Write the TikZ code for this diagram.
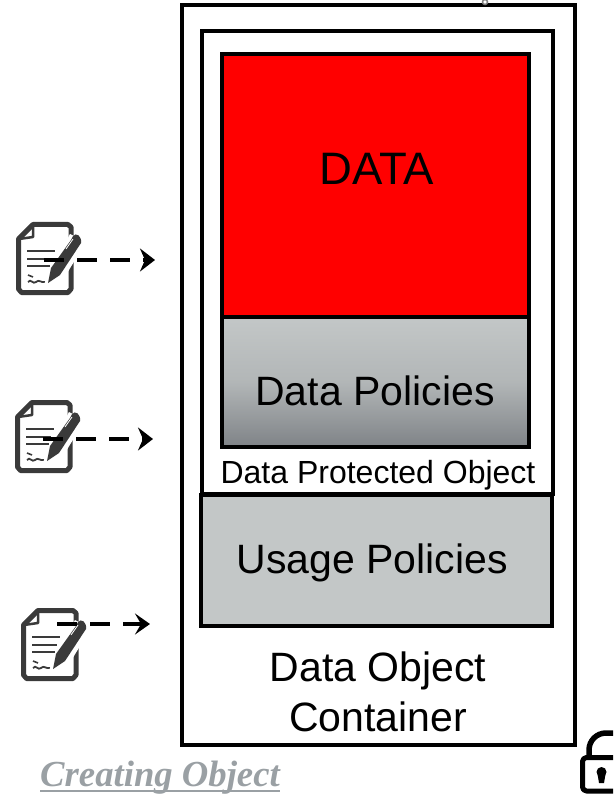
\documentclass[tikz,border=0pt]{standalone}
\usepackage{fontspec}
\setmainfont{Liberation Sans}
\newfontfamily\serifcaption{Liberation Serif}
\usetikzlibrary{arrows.meta}
\definecolor{policygray}{HTML}{C3C7C7}
\definecolor{policydark}{HTML}{7F8387}
\definecolor{captiongray}{HTML}{9AA0A4}
\definecolor{icongray}{HTML}{3A3A3A}
\tikzset{
  box/.style={draw=black, line width=4.5pt, minimum width=#1, outer sep=0pt, inner sep=0pt},
  boxtext/.style={anchor=base, inner sep=0pt, font=\fontsize{41}{41}\selectfont},
  signflow/.style={line width=4.2pt, dash pattern=on 20pt off 13pt},
  signdoc/.pic={
    % Sheet with folded corner
    \draw[icongray, line width=5pt, line join=round] (55,19) -- (55,5) -- (52,2.5) -- (17,2.5) -- (2.5,17) -- (2.5,67) -- (5.5,70.5) -- (52,70.5) -- (55,67) -- (55,40);
    \draw[icongray, line width=2.5pt, line join=round] (17,2) -- (17,15) -- (3,17);
    % Text lines
    \foreach \liney/\lineend in {29/39, 37/36, 44/34}
      \draw[icongray, line width=2.8pt] (11,\liney) -- (\lineend,\liney);
    % Signature
    \draw[icongray, line width=1.8pt] (12,60) .. controls (15,56) and (17,63) .. (20,60) .. controls (23,57) and (25,61) .. (29,60);
    \draw[icongray, line width=1.6pt] (12,53) -- (17,55);
    % Pen
    \fill[white] (27,64) -- (54,12) -- (70,20) -- (42,66) -- cycle;
    \fill[icongray] (32,61) -- (35,46) -- (55,18) -- (57,14) .. controls (60,10) and (66,14) .. (65,21) -- (44,53) -- cycle;
    \draw[white, line width=0.8pt] (50,27) -- (57,17);
    \coordinate (-start) at (28,37);
  }
}
\begin{document}
\begin{tikzpicture}[x=1pt,y=-1pt]
\useasboundingbox (0,0) rectangle (613,794);
\clip (0,0) rectangle (613,794);
% Draw containers
\node[box=393pt, minimum height=740pt] (container) at (378.5,375) {};
\node[box=351pt, minimum height=463pt] (protected) at (377.5,262.5) {};
% Draw handle on the frame
\draw[gray, line width=1.5pt, fill=white] (485,2) circle [radius=2.5pt];
% Draw data and policies
\node[box=307pt, minimum height=263pt, fill=red] (data) at (375.5,185.5) {};
\node[box=307pt, minimum height=130pt, top color=policygray, bottom color=policydark, middle color=policygray!75!policydark] (datapolicies) at (375.5,382) {};
\node[box=351pt, minimum height=131pt, fill=policygray] (usagepolicies) at (376.5,560.5) {};
% Draw labels
\node[boxtext, font=\fontsize{45.5}{45.5}\selectfont] (datatext) at (376.5,185) {DATA};
\node[boxtext] (datapoliciestext) at (375,405) {Data Policies};
\node[boxtext, font=\fontsize{32}{32}\selectfont] (protectedtext) at (378,483) {Data Protected Object};
\node[boxtext] (usagetext) at (372,573) {Usage Policies};
\node[boxtext] (containertext1) at (378,681) {Data Object};
\node[boxtext] (containertext2) at (378,731) {Container};
% Draw signed documents
\pic (sign1) at (16,222) {signdoc};
\pic (sign2) at (15,400) {signdoc};
\pic (sign3) at (21,608) {signdoc};
% Arrow ends at the container
\coordinate (tip1) at (155,260);
\coordinate (tip2) at (153,439);
\coordinate (tip3) at (150,624);
% Draw dashed arrows
\draw[signflow, -{Stealth[length=15pt, width=23pt, inset=5pt]}] (sign1-start |- tip1) -- (tip1);
\draw[signflow, -{Stealth[length=15pt, width=23pt, inset=5pt]}] (sign2-start |- tip2) -- (tip2);
\draw[signflow, -{Stealth[length=15pt, width=21pt, inset=6pt]}] ([xshift=8pt]sign3-start |- tip3) -- (tip3);
% Draw caption
\node[anchor=base west, inner sep=0pt, text=captiongray, font=\serifcaption\bfseries\itshape\fontsize{36.7}{36.7}\selectfont] (caption) at (40,786) {Creating Object};
\draw[captiongray, line width=2.5pt] (caption.base west) ++(0,5) coordinate (underlinestart) -- (underlinestart -| caption.base east);
% Draw lock
\draw[black, line width=5pt, line join=round, rounded corners=4pt] (625,757.5) -- (582.5,757.5) -- (582.5,791) -- (625,791);
\draw[black, line width=5.5pt] (589,757.5) -- (589,750) arc [start angle=180, end angle=270, radius=17] -- (625,733);
\fill[black] (601.5,772) circle [radius=5pt];
\fill[black] (597.5,774) -- (605.5,774) -- (604,783) -- (599,783) -- cycle;
\end{tikzpicture}
\end{document}
